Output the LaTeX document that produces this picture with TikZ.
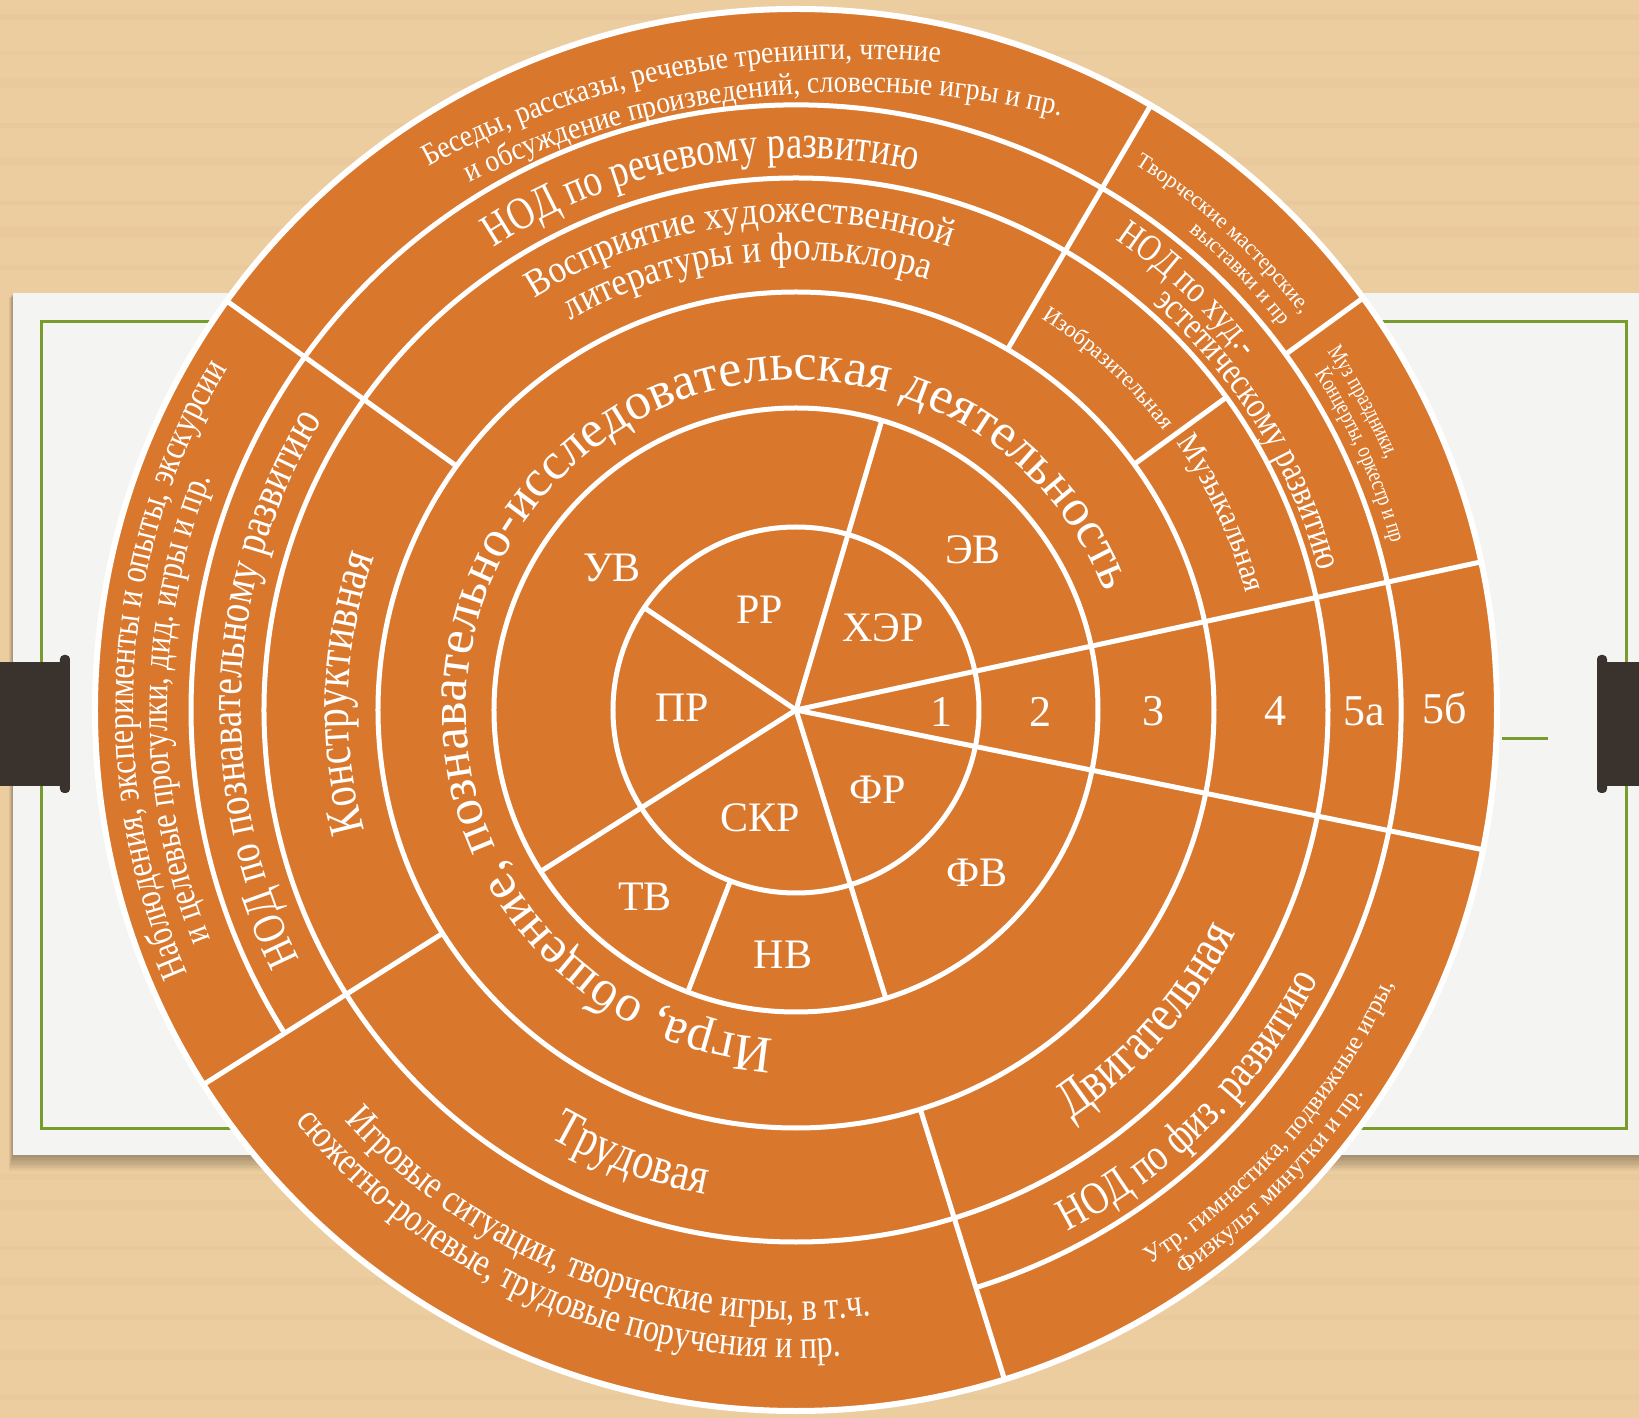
\documentclass[tikz,border=0pt]{standalone}
\usepackage{fontspec}
\setmainfont{Liberation Serif}
\newfontfamily\stA[FakeStretch=0.8]{Liberation Serif}
\newfontfamily\stB[FakeStretch=0.9]{Liberation Serif}
\usetikzlibrary{decorations.text}
\definecolor{orng}{RGB}{217,120,45}
\definecolor{wood}{RGB}{236,205,160}
\definecolor{woodd}{RGB}{205,165,115}
\definecolor{card}{RGB}{244,244,242}
\definecolor{grn}{RGB}{120,155,45}
\definecolor{brk}{RGB}{58,50,44}
\newcommand\myfs[1]{\fontsize{#1}{#1}\selectfont}
% #1 font, #2 radius, #3 mid angle, #4 half span (+ clockwise, - counterclockwise), #5 text
\newcommand\arctext[5]{%
  \path[decorate,color=white,decoration={text along path,text align=center,
    text={|\color{white}#1|#5}}]
    ({#3+(#4)}:#2) arc[start angle={#3+(#4)},end angle={#3-(#4)},radius=#2];}
\tikzset{
  wl/.style={white,line width=5},
  lbl/.style={text=white,font=\myfs{42},inner sep=0pt},
  num/.style={text=white,font=\myfs{44},inner sep=0pt}
}
\begin{document}
\begin{tikzpicture}[x=1pt,y=1pt]
\useasboundingbox (-796,-708) rectangle (843,710);
% wood background
\fill[wood] (-796,-708) rectangle (843,710);
\foreach \yy/\hh/\op in {690/6/.09,655/4/.07,622/10/.05,582/5/.09,545/8/.05,505/4/.08,472/12/.05,440/5/.07,
  -470/6/.07,-500/10/.05,-540/4/.09,-575/8/.06,-610/5/.07,-650/10/.05,-690/6/.07}
  \fill[woodd,opacity=\op] (-796,\yy) rectangle (843,\yy+\hh);
% card shadow
\foreach \k in {1,...,10}
  \fill[black,opacity=0.03] (-783-\k*0.4,{-445-\k*1.6}) rectangle (843,417-\k*0.5);
% card
\fill[card] (-783,-445) rectangle (843,417);
\draw[grn,line width=3] (-754,-418) rectangle (830,388);
\draw[grn,line width=3] (706,-29) -- (752,-29);
% brackets
\fill[brk] (-796,48) rectangle (-726,-76);
\fill[brk,rounded corners=4] (-736,55) rectangle (-726,-83);
\fill[brk] (801,48) rectangle (843,-76);
\fill[brk,rounded corners=4] (801,55) rectangle (811,-83);
% disk
\fill[orng] (0,0) circle[radius=701];
\draw[wl] (0,0) circle[radius=183] (0,0) circle[radius=302]
          (0,0) circle[radius=418] (0,0) circle[radius=532];
\draw[wl] (-72.7:605) arc[start angle=-72.7,end angle=212.3,radius=605];
% spokes
\draw[wl] (0,0) -- (12.2:701);
\draw[wl] (0,0) -- (-11.5:701);
\draw[wl] (0,0) -- (73.5:302);
\draw[wl] (0,0) -- (146:183);
\draw[wl] (0,0) -- (212.3:302);
\draw[wl] (212.3:418) -- (212.3:701);
\draw[wl] (249:183) -- (249:302);
\draw[wl] (0,0) -- (287.3:302);
\draw[wl] (287.3:418) -- (287.3:701);
\draw[wl] (59.6:418) -- (59.6:701);
\draw[wl] (36:418) -- (36:532);
\draw[wl] (36:605) -- (36:701);
\draw[wl] (144.3:418) -- (144.3:701);
\draw[white,line width=6] (0,0) circle[radius=701];
% inner labels
\node[lbl] (rr)  at (-36,100) {РР};
\node[lbl] (xer) at (87,82) {ХЭР};
\node[lbl] (pr)  at (-114,2) {ПР};
\node[lbl] (skr) at (-36,-108) {СКР};
\node[lbl] (fr)  at (82,-80) {ФР};
\node[lbl] (uv)  at (-184,142) {УВ};
\node[lbl] (ev)  at (177,160) {ЭВ};
\node[lbl] (tv)  at (-151,-187) {ТВ};
\node[lbl] (nv)  at (-13,-245) {НВ};
\node[lbl] (fv)  at (181,-163) {ФВ};
\node[num] (n1)  at (146,-2) {1};
\node[num] (n2)  at (244,-2) {2};
\node[num] (n3)  at (357,-1) {3};
\node[num] (n4)  at (479,-1) {4};
\node[num] (n5a) at (568,-1) {5а};
\node[num] (n5b) at (649,2) {5б};
% ring 3
\arctext{\myfs{52}}{330}{143.5}{170}{Игра, общение, познавательно-исследовательская деятельность}
% ring 4
\arctext{\stB\myfs{39}}{488}{97}{40}{Восприятие художественной}
\arctext{\stB\myfs{39}}{450}{96.5}{40}{литературы и фольклора}
\arctext{\stA\myfs{50}}{448}{177.8}{40}{Конструктивная}
\arctext{\stA\myfs{52}}{493}{249.7}{-30}{Трудовая}
\arctext{\stA\myfs{54}}{493}{-41.5}{-35}{Двигательная}
\arctext{\myfs{23}}{462}{47.6}{14}{Изобразительная}
\arctext{\stB\myfs{32}}{465}{24.8}{14}{Музыкальная}
% ring 5
\arctext{\stA\myfs{46}}{552}{100.3}{35}{НОД по речевому развитию}
\arctext{\stA\myfs{38}}{569}{47}{14}{НОД по худ.-}
\arctext{\stA\myfs{38}}{541}{31.8}{22}{эстетическому развитию}
\arctext{\stA\myfs{46}}{555}{177.6}{40}{НОД по познавательному развитию}
\arctext{\stA\myfs{46}}{588}{-44.9}{-30}{НОД по физ. развитию}
% ring 6
\begin{scope}[shift={(60,-250)}]
\arctext{\stB\myfs{31}}{901}{101.5}{25}{Беседы, рассказы, речевые тренинги, чтение}
\arctext{\stB\myfs{31}}{868}{96.4}{28}{и обсуждение произведений, словесные игры и пр.}
\end{scope}
\arctext{\stA\myfs{38}}{663}{176.2}{35}{Наблюдения, эксперименты и опыты, экскурсии}
\arctext{\stA\myfs{38}}{629}{179.9}{35}{и целевые прогулки, дид. игры и пр.}
\arctext{\stA\myfs{40}}{610}{249.7}{-40}{Игровые ситуации, творческие игры, в т.ч.}
\arctext{\stA\myfs{40}}{648}{246.7}{-40}{сюжетно-ролевые, трудовые поручения и пр.}
\arctext{\myfs{25}}{658}{-41}{-30}{Утр. гимнастика, подвижные игры,}
\arctext{\myfs{25}}{685}{-44.8}{-25}{Физкульт минутки и пр.}
\arctext{\myfs{22}}{642}{48.1}{16}{Творческие мастерские,}
\arctext{\myfs{22}}{619}{44.5}{16}{выставки и пр}
\arctext{\stA\myfs{23}}{641}{28.5}{14}{Муз праздники,}
\arctext{\stA\myfs{23}}{618}{24.3}{14}{Концерты, оркестр и пр}
\end{tikzpicture}
\end{document}
